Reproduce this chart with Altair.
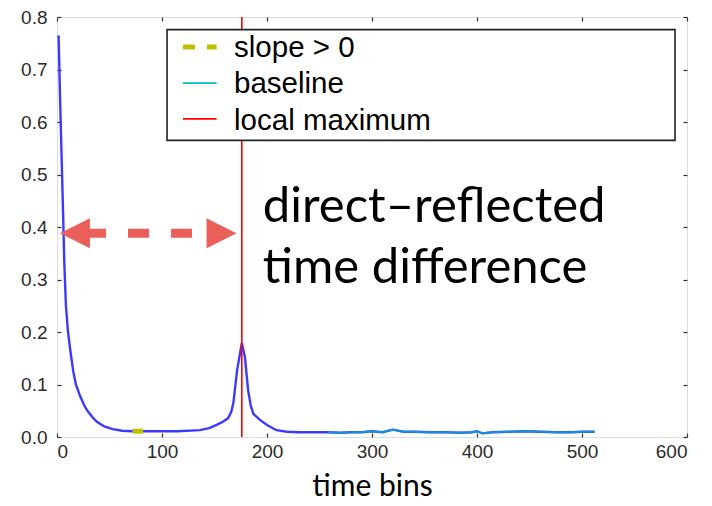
import altair as alt
import pandas as pd

# ---- data ----
curve_x = [1.5, 3.5, 5.5, 7, 8.5, 10.5, 13, 15.5, 18, 22, 26, 29, 34, 38, 45, 53, 62, 72, 85,
           100, 115, 136, 145, 152, 158, 163, 166, 168, 171.5, 176, 179, 182, 184.5, 187, 193,
           200, 209, 219, 230, 245, 258]
curve_y = [0.765, 0.60, 0.45, 0.33, 0.25, 0.20, 0.16, 0.125, 0.10, 0.078, 0.06, 0.05, 0.037,
           0.029, 0.02, 0.015, 0.012, 0.011, 0.011, 0.011, 0.011, 0.013, 0.017, 0.023, 0.029,
           0.036, 0.048, 0.065, 0.127, 0.179, 0.152, 0.089, 0.06, 0.044, 0.033, 0.023, 0.013,
           0.010, 0.009, 0.009, 0.009]
base_x = [258, 270, 280, 290, 300, 310, 320, 330, 340, 355, 370, 385, 395, 400, 405, 415, 430,
          445, 460, 475, 490, 500, 512]
base_y = [0.009, 0.008, 0.009, 0.009, 0.011, 0.009, 0.014, 0.010, 0.010, 0.009, 0.009, 0.008,
          0.009, 0.011, 0.007, 0.009, 0.010, 0.011, 0.010, 0.009, 0.009, 0.010, 0.010]
slope_x = [72, 82]
slope_y = [0.011, 0.011]
local_max_x = 176

legend_labels = ["slope > 0", "baseline", "local maximum"]
legend_colors = ["#bfbf00", "#00bfbf", "#ff0000"]
legend_line_y = [0.743, 0.674, 0.606]
legend_text_y = [0.724, 0.655, 0.585]
legend_box = dict(x=104.8, x2=588.6, y=0.565, y2=0.776)
legend_line_x = [120, 152]
legend_text_x = 168.6

arrow_shaft = dict(x=26.7, x2=142, y=0.388)
arrow_heads_x = [17.1, 156.7]
annot_text = "direct\u2013reflected\ntime difference"
annot_x, annot_y = 196, 0.41

x_ticks = [0, 100, 200, 300, 400, 500, 600]
y_ticks = [0.0, 0.1, 0.2, 0.3, 0.4, 0.5, 0.6, 0.7, 0.8]

# ---- scales ----
xs = alt.Scale(domain=[0, 600], nice=False, zero=False)
ys = alt.Scale(domain=[0, 0.8], nice=False, zero=False)

lab = dict(labelFont="Liberation Sans", labelFontSize=19, labelColor="#2b2b2b",
           domain=False, grid=False, tickColor="#333333", tickWidth=1.2, tickSize=4, offset=-4)

x_bottom = alt.Axis(values=x_ticks, labelPadding=5, title="time bins", titleFont="Lato",
                    titleFontSize=30, titleFontWeight="normal", titleColor="black",
                    titlePadding=10, **lab)
y_left = alt.Axis(values=y_ticks, format=".1f", labelPadding=10, title=None, **lab)
x_top = alt.Axis(values=x_ticks, orient="top", labels=False, title=None, **lab)
y_right = alt.Axis(values=y_ticks, orient="right", labels=False, title=None, **lab)

curve_df = pd.DataFrame({"x": curve_x + base_x[1:], "y": curve_y + base_y[1:]})
base_df = pd.DataFrame({"x": base_x, "y": base_y})
slope_df = pd.DataFrame({"x": slope_x, "y": slope_y})

curve = alt.Chart(curve_df).mark_line(color="#3a3aff", strokeWidth=2.4).encode(
    x=alt.X("x:Q", scale=xs, axis=x_bottom),
    y=alt.Y("y:Q", scale=ys, axis=y_left),
)
baseline = alt.Chart(base_df).mark_line(color="#00bfbf", strokeWidth=2, opacity=0.65).encode(
    x=alt.X("x:Q", scale=xs, axis=None), y=alt.Y("y:Q", scale=ys, axis=None))
slope = alt.Chart(slope_df).mark_line(color="#bfbf00", strokeWidth=5).encode(
    x=alt.X("x:Q", scale=xs, axis=None), y=alt.Y("y:Q", scale=ys, axis=None))

vline = alt.Chart(pd.DataFrame({"x": [local_max_x], "y": [0.0], "y2": [0.8]})).mark_rule(
    color="#ff0000", strokeWidth=1.6).encode(
    x=alt.X("x:Q", scale=xs, axis=x_top),
    y=alt.Y("y:Q", scale=ys, axis=y_right),
    y2="y2:Q",
)

box = alt.Chart(pd.DataFrame([legend_box])).mark_rect(
    fill="white", stroke="#222222", strokeWidth=1.6).encode(
    x=alt.X("x:Q", scale=xs, axis=None), x2="x2:Q",
    y=alt.Y("y:Q", scale=ys, axis=None), y2="y2:Q")

leg_df = pd.DataFrame({"label": legend_labels, "color": legend_colors,
                       "ly": legend_line_y, "ty": legend_text_y,
                       "x1": legend_line_x[0], "x2": legend_line_x[1], "tx": legend_text_x})
leg_dash = alt.Chart(leg_df.iloc[[0]]).mark_rule(strokeWidth=5, strokeDash=[12, 12]).encode(
    x=alt.X("x1:Q", scale=xs, axis=None), x2="x2:Q",
    y=alt.Y("ly:Q", scale=ys, axis=None),
    color=alt.Color("color:N", scale=None))
leg_lines = alt.Chart(leg_df.iloc[1:]).mark_rule(strokeWidth=1.6).encode(
    x=alt.X("x1:Q", scale=xs, axis=None), x2="x2:Q",
    y=alt.Y("ly:Q", scale=ys, axis=None),
    color=alt.Color("color:N", scale=None))
leg_text = alt.Chart(leg_df).mark_text(font="Liberation Sans", fontSize=29.5, align="left",
                                       baseline="alphabetic", color="black").encode(
    x=alt.X("tx:Q", scale=xs, axis=None), y=alt.Y("ty:Q", scale=ys, axis=None), text="label:N")

arrow_col = "#eb5f5a"
shaft = alt.Chart(pd.DataFrame([arrow_shaft])).mark_rule(
    color=arrow_col, strokeWidth=9, strokeDash=[21, 22]).encode(
    x=alt.X("x:Q", scale=xs, axis=None), x2="x2:Q", y=alt.Y("y:Q", scale=ys, axis=None))
heads_df = pd.DataFrame({"x": arrow_heads_x, "y": [arrow_shaft["y"]] * 2,
                         "shape": ["M-1,0L1,-1L1,1Z", "M1,0L-1,-1L-1,1Z"]})
heads = alt.Chart(heads_df).mark_point(filled=True, size=900, color=arrow_col, opacity=1,
                                        strokeWidth=0).encode(
    x=alt.X("x:Q", scale=xs, axis=None), y=alt.Y("y:Q", scale=ys, axis=None),
    shape=alt.Shape("shape:N", scale=None))

annot = alt.Chart(pd.DataFrame({"x": [annot_x], "y": [annot_y], "t": [annot_text]})).mark_text(
    font="Lato", fontSize=49, align="left", baseline="alphabetic", lineBreak="\n",
    lineHeight=61, color="black").encode(
    x=alt.X("x:Q", scale=xs, axis=None), y=alt.Y("y:Q", scale=ys, axis=None), text="t:N")

chart = alt.layer(
    curve, vline, baseline, slope, box, leg_dash, leg_lines, leg_text, shaft, heads, annot
).resolve_axis(x="independent", y="independent").properties(
    width=630, height=420,
    autosize=alt.AutoSizeParams(type="none"),
    padding={"left": 49, "top": 9, "right": 10, "bottom": 72},
).configure_view(stroke="#222222", strokeWidth=1.6).configure(background="white")

chart.save("out.html", embed_options={"renderer": "svg", "actions": False})
